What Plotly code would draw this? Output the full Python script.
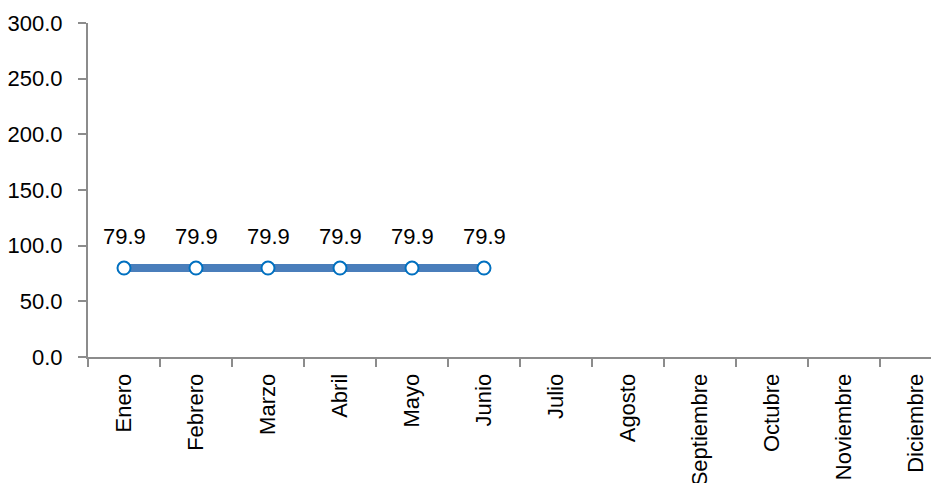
import plotly.graph_objects as go

months = ["Enero", "Febrero", "Marzo", "Abril", "Mayo", "Junio", "Julio",
          "Agosto", "Septiembre", "Octubre", "Noviembre", "Diciembre"]
values = [79.9, 79.9, 79.9, 79.9, 79.9, 79.9]
y_ticks = [0, 50, 100, 150, 200, 250, 300]

FONT = "Liberation Sans Narrow, Arial Narrow, Liberation Sans, Arial, sans-serif"

fig = go.Figure()
fig.add_trace(go.Scatter(
    x=months[:len(values)], y=values, mode="lines+markers",
    line=dict(color="#4A7EBB", width=8),
    marker=dict(size=13, color="white", line=dict(color="#0070C0", width=2)),
    showlegend=False, hoverinfo="skip",
))
for m, v in zip(months, values):
    fig.add_annotation(x=m, y=v, text=f"{v:.1f}", showarrow=False,
                       yshift=32, font=dict(size=22, color="#000", family=FONT))

# page body has an 8px margin, so the figure is drawn at (8, 8)
fig.update_layout(
    width=931, height=475,
    margin=dict(l=80, r=0, t=15, b=126),
    paper_bgcolor="white", plot_bgcolor="white",
    font=dict(family=FONT, size=22, color="#000"),
)
fig.update_xaxes(
    type="category", categoryorder="array", categoryarray=months,
    range=[-0.5, -0.5 + 851 / 72], automargin=False,
    showline=True, linecolor="#8C8C8C", linewidth=2,
    ticks="outside", tickson="boundaries", ticklen=8, tickcolor="#8C8C8C", tickwidth=2,
    tickangle=-90, showgrid=False, zeroline=False, ticklabelstandoff=6,
    tickfont=dict(size=22, family=FONT),
)
fig.update_yaxes(
    range=[0, 300], tickvals=y_ticks, ticktext=[f"{t:.1f}" for t in y_ticks],
    automargin=False,
    showline=True, linecolor="#8C8C8C", linewidth=2,
    ticks="outside", ticklen=8, tickcolor="#8C8C8C", tickwidth=2,
    showgrid=False, zeroline=False, ticklabelstandoff=11,
    tickfont=dict(size=22, family=FONT),
)
fig.write_html("out.html")
